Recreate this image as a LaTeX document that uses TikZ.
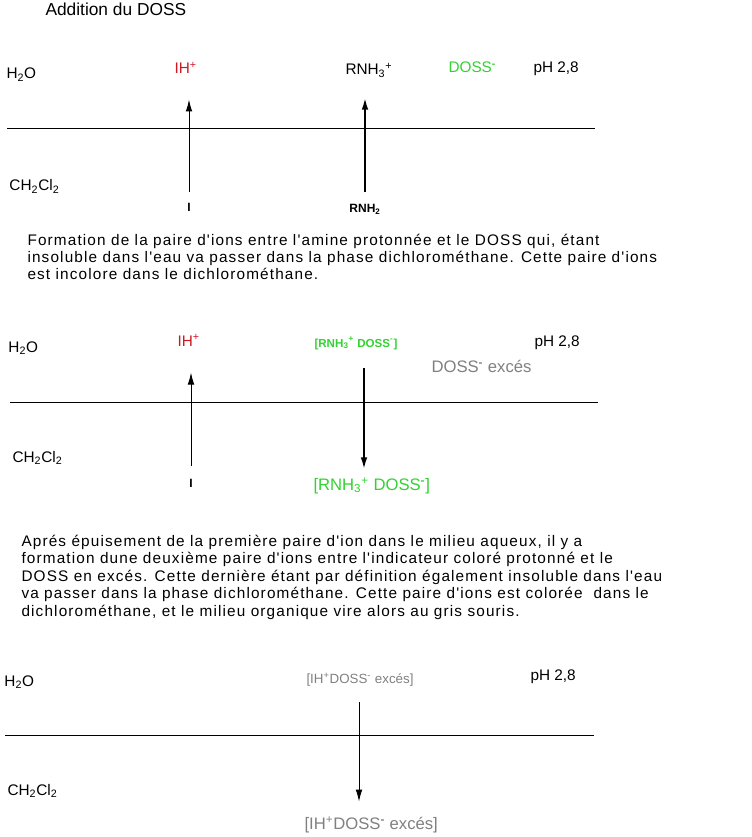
\documentclass[tikz,border=0pt]{standalone}
\usepackage{fontspec}
\setmainfont{Liberation Sans}[Ligatures=TeXOff]
\newfontfamily\parafont{Liberation Sans}[Ligatures=TeXOff, LetterSpace=7.5]
\usetikzlibrary{arrows.meta}

\definecolor{ionred}{RGB}{205,25,35}
\definecolor{iongreen}{RGB}{50,210,50}
\definecolor{excgray}{RGB}{128,128,128}

\tikzset{every picture/.style={line width=0.75pt}}
\tikzset{
  lbl/.style={inner sep=0.75pt, font=\fontsize{11.5}{14}\selectfont},
  big/.style={inner sep=0.75pt, font=\fontsize{12.5}{15}\selectfont},
  sml/.style={inner sep=0.75pt, font=\fontsize{9}{11}\selectfont\bfseries},
  para/.style={inner sep=0.75pt, align=left, font=\parafont\fontsize{11.5}{12.9}\selectfont},
  thinar/.style={line width=0.75pt, -{Latex[length=9pt,width=5pt]}},
  thickar/.style={line width=1.5pt, -{Latex[length=9pt,width=5pt]}},
}

\begin{document}
\begin{tikzpicture}[x=0.75pt,y=0.75pt,yscale=-1,xscale=1]
%set diagram left start at 0, and has height of 837
\path [use as bounding box] (0,0) rectangle (751,837);

% Text Node
\draw (44,16) node (titre) [anchor=base west][big, font=\fontsize{13}{15}\selectfont] {Addition du DOSS};

%%% first stage
% Text Node
\draw (5,79) node (eauA) [anchor=base west][lbl] {H\textsubscript{2}O};
% Text Node
\draw (173,74) node (ihA) [anchor=base west][lbl, text=ionred] {IH\textsuperscript{+}};
% Text Node
\draw (344,75) node (rnhA) [anchor=base west][lbl] {RNH\textsubscript{3}\textsuperscript{+}};
% Text Node
\draw (447,73) node (dossA) [anchor=base west][lbl, text=iongreen] {DOSS\textsuperscript{\textbf{-}}};
% Text Node
\draw (532,73) node (phA) [anchor=base west][lbl] {pH 2,8};
%Straight Lines
\draw (7,129) -- (595,129);
% Text Node
\draw (8,191) node (dcmA) [anchor=base west][lbl] {CH\textsubscript{2}Cl\textsubscript{2}};
% Text Node
\draw (189,212) node (iA) [anchor=base][sml] {I};
% Text Node
\draw (365,213) node (rnhbA) [anchor=base][sml] {RNH\textsubscript{2}};
%Arrows
\draw [thinar, shorten <=7.5pt, shorten >=18pt] (iA.north) -- (iA.north |- ihA.south);
\draw [thickar, shorten <=8.2pt, shorten >=14pt] (rnhbA.north) -- (rnhbA.north |- rnhA.south);

% Text Node (base = last line)
\draw (26,280) node (texteA) [anchor=base west][para] {Formation de la paire d'ions entre l'amine protonnée et le DOSS qui, étant\\
insoluble dans l'eau va passer dans la phase dichlorométhane. Cette paire d'ions\\
est incolore dans le dichlorométhane.};

%%% second stage
% Text Node
\draw (7,352) node (eauB) [anchor=base west][lbl] {H\textsubscript{2}O};
% Text Node
\draw (176,346) node (ihB) [anchor=base west][lbl, text=ionred] {IH\textsuperscript{+}};
% Text Node
\draw (313,347) node (pairB) [anchor=base west][inner sep=0.75pt, font=\fontsize{8.7}{10}\selectfont\bfseries, text=iongreen] {[RNH\textsubscript{3}\textsuperscript{+} DOSS\textsuperscript{-}]};
% Text Node
\draw (533,346) node (phB) [anchor=base west][lbl] {pH 2,8};
% Text Node
\draw (430,372) node (excB) [anchor=base west][big, text=excgray] {DOSS\textsuperscript{\textbf{-}} excés};
%Straight Lines
\draw (10,402) -- (598,402);
% Text Node
\draw (11,462) node (dcmB) [anchor=base west][lbl] {CH\textsubscript{2}Cl\textsubscript{2}};
% Text Node
\draw (191,487) node (iB) [anchor=base][sml] {I};
% Text Node
\draw (312,490) node (pairC) [anchor=base west][big, text=iongreen] {[RNH\textsubscript{3}\textsuperscript{+} DOSS\textsuperscript{\textbf{-}}]};
\coordinate (colB) at (364,0);
%Arrows
\draw [thinar, shorten <=8.2pt, shorten >=18.75pt] (iB.north) -- (iB.north |- ihB.south);
\draw [thickar, shorten <=12.75pt, shorten >=5pt] (pairB.south -| colB) -- (pairC.north -| colB);

% Text Node (base = last line)
\draw (20,616) node (texteB) [anchor=base west][para, font=\parafont\fontsize{11.5}{13.1}\selectfont] {Aprés épuisement de la première paire d'ion dans le milieu aqueux, il y a\\
formation dune deuxième paire d'ions entre l'indicateur coloré protonné et le\\
DOSS en excés. Cette dernière étant par définition également insoluble dans l'eau\\
va passer dans la phase dichlorométhane. Cette paire d'ions est colorée\ \ dans le\\
dichlorométhane, et le milieu organique vire alors au gris souris.};

%%% third stage
% Text Node
\draw (3,686) node (eauC) [anchor=base west][lbl] {H\textsubscript{2}O};
% Text Node
\draw (305,683) node (pairD) [anchor=base west][inner sep=0.75pt, font=\fontsize{10}{12}\selectfont, text=excgray] {[IH\textsuperscript{+}DOSS\textsuperscript{-} excés]};
% Text Node
\draw (529,680) node (phC) [anchor=base west][lbl] {pH 2,8};
%Straight Lines
\draw (5,735) -- (594,735);
% Text Node
\draw (6,795) node (dcmC) [anchor=base west][lbl] {CH\textsubscript{2}Cl\textsubscript{2}};
% Text Node
\draw (303,829) node (pairE) [anchor=base west][big, text=excgray] {[IH\textsuperscript{+}DOSS\textsuperscript{\textbf{-}} excés]};
\coordinate (colC) at (359,0);
%Arrows
\draw [thinar, shorten <=11pt, shorten >=10pt] (pairD.south -| colC) -- (pairE.north -| colC);

\end{tikzpicture}
\end{document}
